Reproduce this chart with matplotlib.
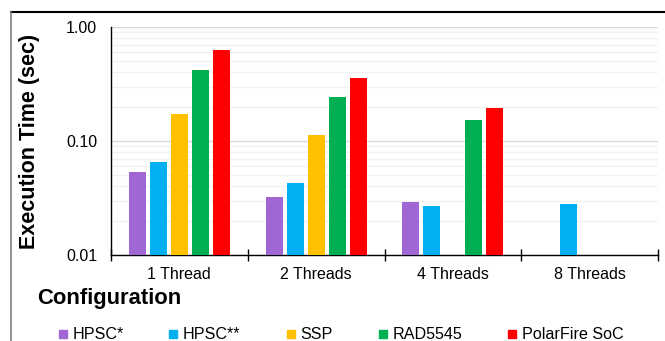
import matplotlib
matplotlib.use("Agg")
import matplotlib.pyplot as plt
from matplotlib.lines import Line2D
from matplotlib.ticker import FixedLocator, NullFormatter, LogLocator
import numpy as np

plt.rcParams['font.family'] = ['Liberation Sans', 'DejaVu Sans']

# data (seconds, log scale)
configs = ['1 Thread', '2 Threads', '4 Threads', '8 Threads']
series = ['HPSC*', 'HPSC**', 'SSP', 'RAD5545', 'PolarFire SoC']
hpsc1 = [0.054, 0.032, 0.029, np.nan]
hpsc2 = [0.065, 0.043, 0.027, 0.028]
ssp = [0.173, 0.113, np.nan, np.nan]
rad5545 = [0.42, 0.243, 0.153, np.nan]
polarfire = [0.625, 0.355, 0.196, np.nan]
colors = ['#A066D3', '#00B0F0', '#FFC000', '#00B050', '#FF0000']

fig = plt.figure(figsize=(6.65, 3.41), dpi=100)
ax = fig.add_axes([0.1669, 0.2522, 0.9895 - 0.1669, 0.9208 - 0.2522])

x = np.arange(len(configs))
slot = 0.1536
width = 0.124
for i, (vals, col) in enumerate(zip([hpsc1, hpsc2, ssp, rad5545, polarfire], colors)):
    ax.bar(x + (i - 2) * slot, vals, width, color=col, zorder=3)

ax.set_yscale('log')
ax.set_ylim(0.01, 1.0)
ax.set_xlim(-0.5, 3.5)

# y axis labels
ax.yaxis.set_major_locator(FixedLocator([0.01, 0.1, 1.0]))
ax.set_yticklabels(['0.01', '0.10', '1.00'])
ax.yaxis.set_minor_locator(LogLocator(base=10, subs=np.arange(2, 10)))
ax.yaxis.set_minor_formatter(NullFormatter())
ax.tick_params(axis='y', which='both', length=0, pad=10, labelsize=11.5)
ax.grid(axis='y', which='major', color='#d9d9d9', linewidth=1.0, zorder=0)
ax.grid(axis='y', which='minor', color='#f2f2f2', linewidth=1.0, zorder=0)

# x axis: tick marks between groups, labels centred on groups
ax.set_xticks(np.arange(-0.5, 4.0, 1.0))
ax.set_xticklabels([])
ax.set_xticks(x, minor=True)
ax.set_xticklabels(configs, minor=True)
ax.tick_params(axis='x', which='major', direction='inout', length=8, width=1)
ax.tick_params(axis='x', which='minor', length=0, pad=9, labelsize=11.5)

for s in ['top', 'right']:
    ax.spines[s].set_visible(False)
for s in ['left', 'bottom']:
    ax.spines[s].set_color('black')
    ax.spines[s].set_linewidth(1.0)

ax.set_ylabel('Execution Time (sec)', fontsize=15.5, fontweight='bold')
ax.yaxis.set_label_coords(-0.129, 0.5)

fig.text(0.056, 0.126, 'Configuration', fontsize=15.8, fontweight='bold',
         ha='left', va='center')

# legend
handles = [Line2D([], [], marker='s', linestyle='none', markersize=6,
                  markerfacecolor=c, markeredgecolor=c) for c in colors]
fig.legend(handles, series, loc='center', bbox_to_anchor=(0.512, 0.018), ncol=5,
           frameon=False, fontsize=11.6, handlelength=0.6, handletextpad=0.3,
           columnspacing=2.8, borderaxespad=0)

# outer frame lines
fig.add_artist(Line2D([11 / 665, 1], [1 - 12 / 341, 1 - 12 / 341],
                      transform=fig.transFigure, color='black', linewidth=1.5))
fig.add_artist(Line2D([11 / 665, 11 / 665], [0, 1 - 12 / 341],
                      transform=fig.transFigure, color='#808080', linewidth=1.2))

fig.savefig('out.png', dpi=100)
